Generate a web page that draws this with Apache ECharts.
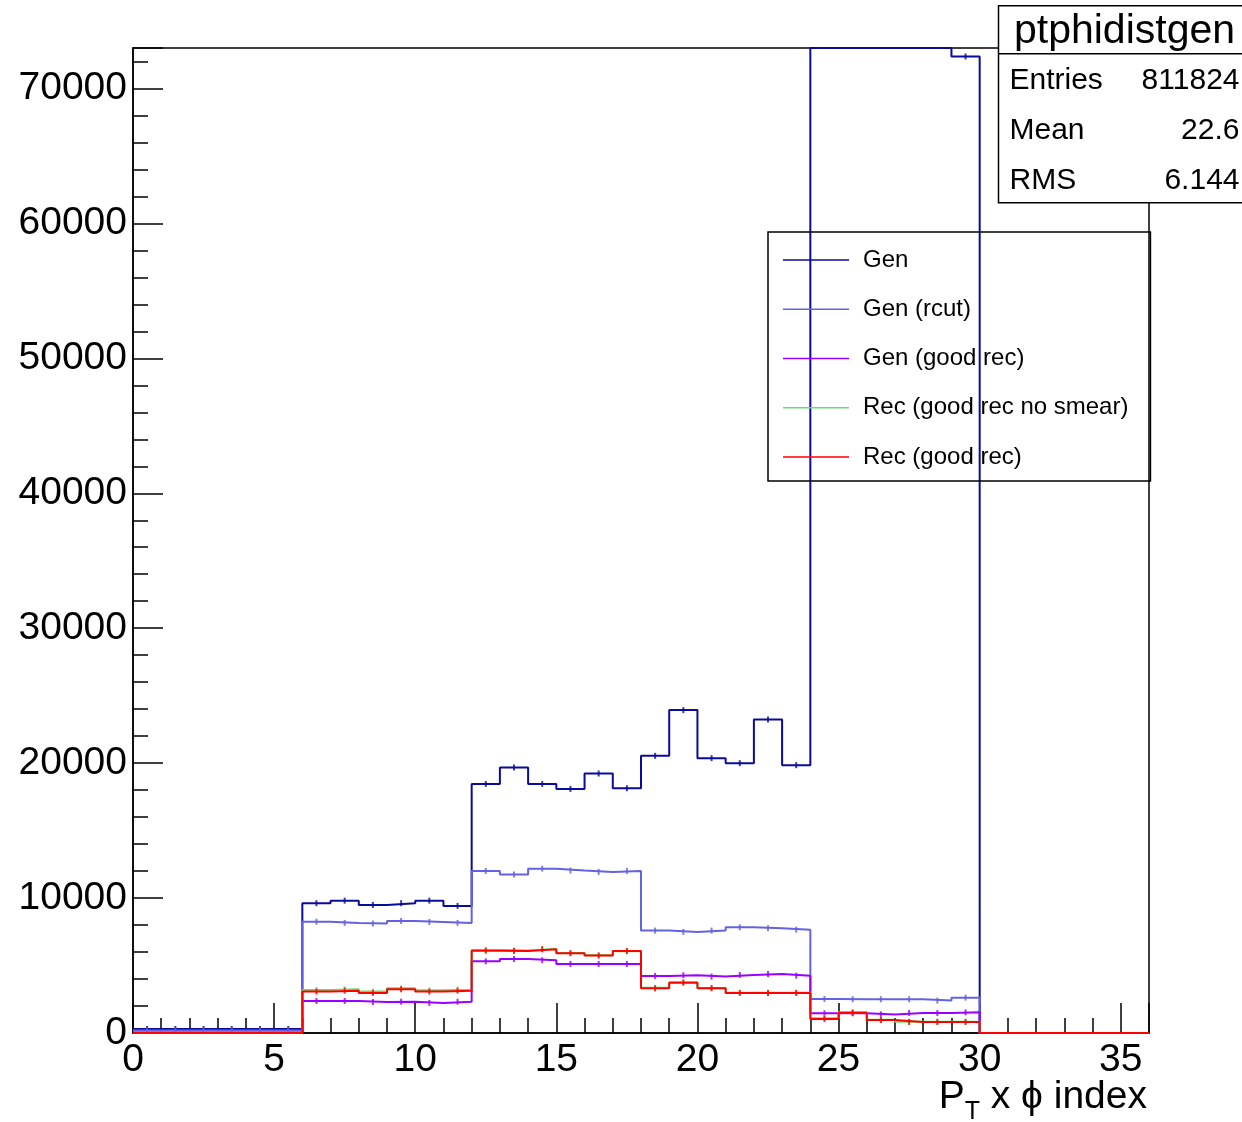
<!DOCTYPE html>
<html>
<head>
<meta charset="utf-8">
<script src="https://cdn.jsdelivr.net/npm/echarts@6/dist/echarts.min.js"></script>
<style>
  html, body { margin: 0; padding: 0; background: #fff; }
  #main { width: 1242px; height: 1122px; }
</style>
</head>
<body>
<div id="main"></div>
<script>
// bin contents, 36 bins of width 1 starting at 0
const gen = [300, 300, 300, 300, 300, 300,
  9620, 9810, 9490, 9620, 9810, 9420,
  18460, 19670, 18460, 18090, 19230, 18140,
  20540, 23930, 20370, 20000, 23230, 19850,
  88000, 88500, 87800, 88200, 87900, 72370,
  0, 0, 0, 0, 0, 0];
const genRcut = [180, 180, 180, 180, 180, 180,
  8250, 8160, 8110, 8300, 8230, 8160,
  12010, 11740, 12180, 12040, 11940, 12010,
  7590, 7490, 7590, 7830, 7760, 7660,
  2520, 2500, 2500, 2500, 2400, 2620,
  0, 0, 0, 0, 0, 0];
const genGoodRec = [30, 30, 30, 30, 30, 30,
  2370, 2370, 2300, 2320, 2230, 2320,
  5310, 5490, 5390, 5120, 5120, 5120,
  4230, 4280, 4180, 4300, 4380, 4250,
  1460, 1460, 1380, 1480, 1480, 1530,
  0, 0, 0, 0, 0, 0];
const recNoSmear = [30, 30, 30, 30, 30, 30,
  3190, 3240, 3070, 3310, 3160, 3210,
  6150, 6110, 6230, 5930, 5760, 6050,
  3350, 3760, 3340, 2990, 2990, 2990,
  1090, 1530, 980, 830, 830, 830,
  0, 0, 0, 0, 0, 0];
const recGoodRec = [20, 20, 20, 20, 20, 20,
  3070, 3140, 2970, 3240, 3070, 3140,
  6100, 6080, 6200, 5910, 5740, 6080,
  3310, 3730, 3310, 2970, 2970, 2970,
  1040, 1510, 960, 820, 820, 820,
  0, 0, 0, 0, 0, 0];

const names = ['Gen', 'Gen (rcut)', 'Gen (good rec)', 'Rec (good rec no smear)', 'Rec (good rec)'];
const colors = ['#0a0a9c', '#6262e2', '#9900ff', '#66dd66', '#ff0000'];
const hists = [gen, genRcut, genGoodRec, recNoSmear, recGoodRec];

const statsLabels = ['Entries', 'Mean', 'RMS'];
const statsValues = ['811824', '22.6', '6.144'];

const Y_MAX = 73000;
const FONT = "'Liberation Sans', Arial, Helvetica, sans-serif";

// step outline: one point per bin low edge, plus closing edge.
// overflowing bins are drawn on the frame top, the way ROOT does it
function stepData(h) {
  const d = h.map((v, i) => [i, Math.min(v, Y_MAX)]);
  d.push([h.length, Math.min(h[h.length - 1], Y_MAX)]);
  return d;
}
// small markers at bin centres (ROOT error bar stubs)
function markerData(h) {
  return h.map((v, i) => [i + 0.5, v]).filter(p => p[1] > 100 && p[1] < Y_MAX);
}

const series = [];
hists.forEach((h, k) => {
  series.push({
    name: names[k],
    type: 'line',
    step: 'end',
    data: stepData(h),
    symbol: 'none',
    showSymbol: false,
    animation: false,
    clip: false,
    lineStyle: { color: colors[k], width: 2 },
    itemStyle: { color: colors[k] },
    z: 2 + k
  });
  series.push({
    name: names[k] + ' err',
    type: 'scatter',
    data: markerData(h),
    symbol: 'rect',
    symbolSize: [2, 6],
    animation: false,
    silent: true,
    itemStyle: { color: colors[k] },
    z: 2 + k
  });
});

// stats box drawn like the ROOT TPaveStats
const statsBox = {
  type: 'group',
  left: 996,
  top: 5,
  z: 100,
  children: [
    { type: 'rect', shape: { x: 0, y: 0, width: 260, height: 197 },
      style: { fill: '#fff', stroke: '#000', lineWidth: 1.5 } },
    { type: 'line', shape: { x1: 0, y1: 48, x2: 260, y2: 48 },
      style: { stroke: '#000', lineWidth: 1.5 } },
    { type: 'text', x: 126, y: 26,
      style: { text: 'ptphidistgen', font: '41px ' + FONT, fill: '#000',
               align: 'center', verticalAlign: 'middle' } }
  ]
};
statsLabels.forEach((lab, i) => {
  statsBox.children.push({ type: 'text', x: 11, y: 75 + i * 50,
    style: { text: lab, font: '30px ' + FONT, fill: '#000', align: 'left', verticalAlign: 'middle' } });
  statsBox.children.push({ type: 'text', x: 241, y: 75 + i * 50,
    style: { text: statsValues[i], font: '30px ' + FONT, fill: '#000', align: 'right', verticalAlign: 'middle' } });
});

const chart = echarts.init(document.getElementById('main'), null, { renderer: 'canvas' });
chart.setOption({
  backgroundColor: '#fff',
  animation: false,
  textStyle: { fontFamily: FONT },
  grid: {
    left: 133, top: 48, right: 93, bottom: 89,
    show: true, borderColor: '#000', borderWidth: 1.5, backgroundColor: 'transparent'
  },
  legend: {
    data: names,
    orient: 'vertical',
    left: 768,
    top: 232,
    padding: [16, 22, 12, 15],
    itemGap: 25.25,
    itemWidth: 66,
    itemHeight: 1.5,
    icon: 'rect',
    borderColor: '#000',
    borderWidth: 1.5,
    backgroundColor: 'transparent',
    selectedMode: false,
    textStyle: { fontSize: 24, fontFamily: FONT, color: '#000', padding: [0, 0, 0, 9], lineHeight: 24 }
  },
  xAxis: {
    type: 'value',
    min: 0,
    max: 36,
    interval: 5,
    axisLine: { show: true, lineStyle: { color: '#000', width: 1.5 } },
    axisTick: { show: true, inside: true, length: 30, lineStyle: { color: '#000', width: 1.5 } },
    minorTick: { show: true, splitNumber: 5, length: 15, lineStyle: { color: '#000', width: 1.5 } },
    splitLine: { show: false },
    axisLabel: { fontSize: 39, color: '#000', margin: 8, fontFamily: FONT, showMaxLabel: false }
  },
  yAxis: {
    type: 'value',
    min: 0,
    max: Y_MAX,
    interval: 10000,
    axisLine: { show: true, lineStyle: { color: '#000', width: 1.5 } },
    axisTick: { show: true, inside: true, length: 30, lineStyle: { color: '#000', width: 1.5 } },
    minorTick: { show: true, splitNumber: 5, length: 15, lineStyle: { color: '#000', width: 1.5 } },
    splitLine: { show: false },
    axisLabel: { fontSize: 39, color: '#000', margin: 6, fontFamily: FONT, showMaxLabel: false,
                 formatter: v => String(v) }
  },
  graphic: [
    statsBox,
    {
      type: 'text',
      right: 95,
      top: 1078,
      z: 100,
      style: {
        text: '{main|P}{sub|T}{main| x \u03d5 index}',
        font: '39px ' + FONT,
        fill: '#000',
        rich: {
          main: { fontSize: 39, fontFamily: FONT, fill: '#000', verticalAlign: 'bottom', lineHeight: 39, padding: [0, 0, 8, 0] },
          sub: { fontSize: 25, fontFamily: FONT, fill: '#000', verticalAlign: 'bottom', lineHeight: 25 }
        }
      }
    }
  ],
  series: series
});
</script>
</body>
</html>
